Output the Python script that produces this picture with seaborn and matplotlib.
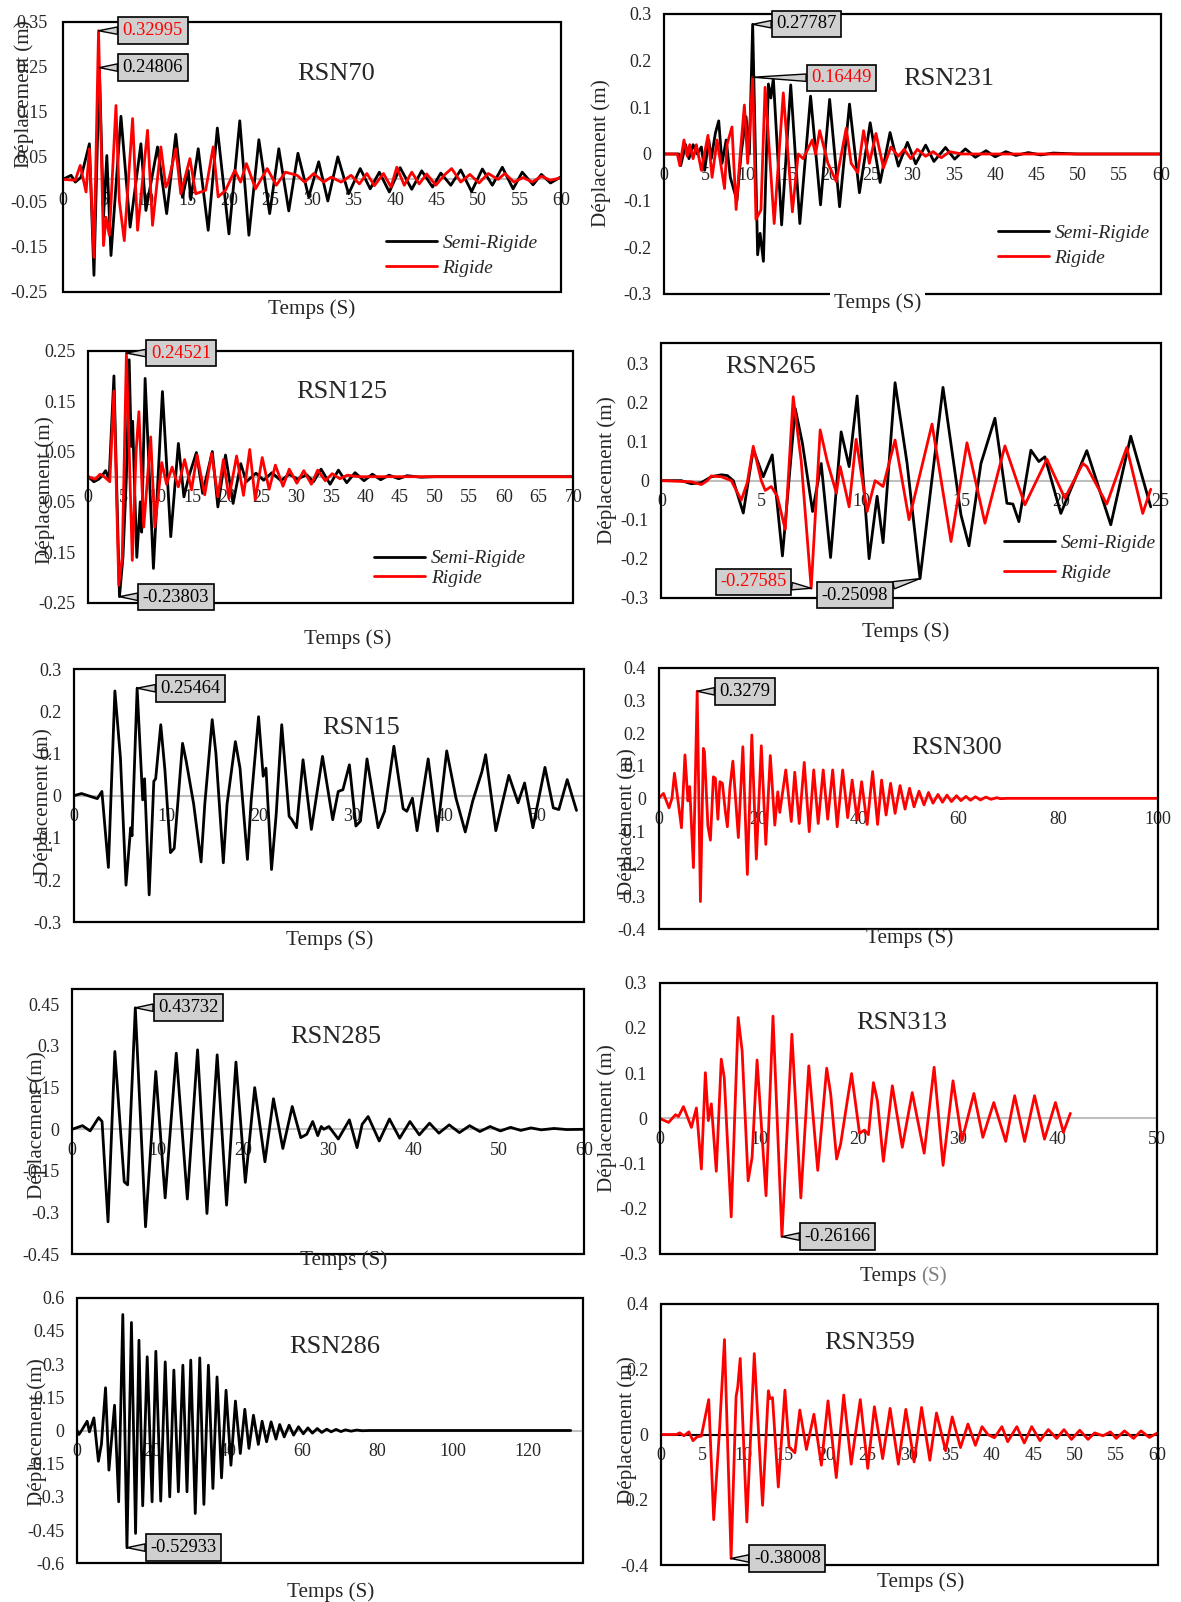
import matplotlib
matplotlib.use("Agg")
import matplotlib.pyplot as plt
import pandas as pd
import seaborn as sns
from matplotlib.lines import Line2D
from matplotlib.patches import Rectangle

sns.set_style("white")
plt.rcParams["font.family"] = ["Liberation Serif", "DejaVu Serif"]

# ---------------- data (time [s], displacement [m]) ----------------
semi70 = [(0,0),(1.0,0.009),(1.5,-0.006),(2.2,0.005),(3.2,0.079),(3.75,-0.213),(4.4,0.24806),(4.9,-0.084),(5.3,0.053),(5.8,-0.169),(7.0,0.14),(8.1,-0.106),(9.4,0.079),(10.0,-0.069),(11.4,0.072),(12.5,-0.076),(13.6,0.10),(14.4,-0.04),(15.1,0.02),(15.4,-0.045),(16.3,0.068),(17.5,-0.113),(18.6,0.114),(20.0,-0.121),(21.3,0.13),(22.4,-0.124),(23.6,0.088),(24.9,-0.076),(26.0,0.068),(27.2,-0.07),(28.3,0.058),(29.6,-0.039),(30.8,0.039),(31.9,-0.048),(33.1,0.05),(34.4,-0.032),(35.8,0.024),(37.0,-0.021),(38.1,0.016),(39.3,-0.028),(40.6,0.026),(42.0,-0.022),(43.2,0.019),(44.5,-0.017),(45.5,0.014),(46.7,-0.013),(47.9,0.021),(49.2,-0.027),(50.5,0.023),(51.7,-0.013),(52.9,0.027),(54.2,-0.021),(55.3,0.016),(56.6,-0.012),(57.6,0.011),(58.7,-0.008),(60,0.006)]
rigide70 = [(0,0),(1.5,-0.002),(2.1,0.031),(2.8,-0.028),(3.2,0.068),(3.75,-0.173),(4.3,0.32995),(4.9,-0.147),(5.2,-0.084),(5.6,-0.124),(6.4,0.164),(6.8,-0.047),(7.4,-0.136),(8.4,0.135),(9.0,-0.113),(10.2,0.109),(10.8,-0.102),(11.8,0.072),(12.4,-0.017),(12.7,-0.006),(13.6,0.068),(14.2,-0.032),(15.3,0.046),(16.0,-0.032),(17.2,-0.024),(18.1,0.072),(18.7,-0.039),(19.6,-0.024),(20.7,0.02),(21.4,-0.006),(22.1,0.035),(23.2,-0.021),(24.6,0.024),(25.7,-0.013),(26.8,0.016),(28.2,0.009),(29.1,-0.006),(30.2,0.013),(31.4,-0.006),(32.3,0.005),(33.5,-0.006),(34.7,0.009),(35.7,-0.01),(36.6,0.013),(37.5,-0.014),(38.6,0.013),(39.5,-0.017),(40.2,0.027),(41.1,-0.013),(42.0,0.016),(42.9,-0.01),(43.8,0.012),(44.9,-0.013),(46.0,0.011),(46.8,0.024),(47.9,-0.006),(49.0,0.011),(50.1,-0.008),(51.2,0.013),(52.4,0.0),(53.2,0.013),(54.3,-0.006),(55.4,0.004),(56.5,-0.006),(57.6,0.007),(58.7,-0.002),(60,0.004)]

semi231 = [(0,0),(1.8,0.0),(2.0,-0.025),(2.6,0.02),(3.0,-0.01),(3.5,0.02),(4.0,0.0),(4.5,0.015),(4.9,-0.035),(5.4,0.03),(5.7,-0.01),(6.2,0.045),(6.6,0.071),(7.0,-0.02),(7.5,0.03),(8.0,-0.05),(8.8,-0.1),(9.3,0.0),(9.9,0.08),(10.3,0.0),(10.7,0.27787),(11.3,-0.216),(11.6,-0.17),(12.0,-0.23),(12.6,0.15),(12.9,0.12),(13.2,0.162),(14.2,-0.152),(15.3,0.148),(16.4,-0.149),(17.7,0.124),(18.9,-0.109),(20.0,0.117),(21.2,-0.113),(22.4,0.107),(23.6,-0.083),(24.9,0.067),(26.1,-0.061),(27.3,0.046),(28.3,-0.026),(29.4,0.025),(30.4,-0.021),(31.6,0.019),(32.6,-0.016),(34.0,0.014),(35.1,-0.011),(36.4,0.011),(37.6,-0.007),(38.9,0.007),(40.0,-0.006),(41.3,0.005),(42.5,-0.003),(44,0.003),(45.5,-0.002),(47,0.002),(50,0.0),(60,0.0)]
rigide231 = [(0,0),(1.6,0.0),(1.9,-0.025),(2.4,0.03),(2.8,-0.005),(3.1,0.02),(3.5,-0.01),(3.9,0.02),(4.5,-0.035),(5.3,0.04),(5.8,-0.05),(6.4,0.03),(7.3,-0.074),(7.6,0.02),(8.2,0.058),(8.7,-0.119),(9.2,0.0),(9.7,0.105),(10.1,-0.02),(10.7,0.16449),(11.1,-0.14),(11.7,-0.12),(12.2,0.143),(13.3,-0.149),(14.4,0.131),(15.5,-0.124),(16.2,0.0),(16.8,-0.01),(17.9,0.03),(18.3,0.0),(18.8,0.05),(19.8,-0.02),(20.8,-0.059),(22.0,0.055),(22.6,-0.02),(23.4,-0.04),(24.1,0.05),(24.8,-0.02),(25.6,0.044),(26.5,-0.03),(27.4,0.015),(28.3,-0.005),(29.0,0.01),(29.8,-0.01),(30.6,0.01),(31.6,-0.005),(32.5,0.005),(33.5,-0.008),(34.5,0.005),(36,0.0),(60,0.0)]

semi125 = [(0,0),(0.8,-0.01),(1.5,-0.005),(2.0,0.002),(2.5,0.012),(3.0,-0.005),(3.7,0.2),(4.5,-0.23803),(5.0,-0.16),(5.5,0.0),(5.9,0.232),(6.2,0.06),(6.4,0.11),(6.7,-0.03),(7.0,-0.16),(7.5,-0.05),(7.7,-0.11),(8.2,0.195),(9.4,-0.182),(10.7,0.169),(11.9,-0.119),(13.0,0.066),(13.8,-0.04),(14.5,0.0),(15.6,0.048),(16.5,-0.033),(17.9,0.05),(18.7,-0.06),(19.8,0.043),(20.9,-0.053),(22.0,0.026),(22.8,-0.01),(24.2,0.007),(25.3,-0.007),(26.5,0.008),(27.8,-0.008),(29.0,0.005),(30.2,-0.005),(31.5,0.004),(32.5,-0.01),(33.6,0.015),(34.9,-0.015),(36.1,0.013),(37.3,-0.012),(38.5,0.008),(39.8,-0.008),(41.0,0.005),(42.2,-0.006),(43.4,0.003),(44.8,-0.004),(46,0.002),(48,-0.001),(50,0.0),(70,0.0)]
rigide125 = [(0,0),(1.0,-0.005),(1.7,0.005),(2.3,0.0),(3.1,-0.01),(3.7,0.17),(4.4,-0.215),(4.9,-0.16),(5.5,0.24521),(6.35,-0.166),(6.9,0.05),(7.3,0.129),(8.0,-0.1),(9.0,0.079),(9.6,-0.1),(10.6,0.028),(11.3,-0.015),(12.1,0.019),(13.0,-0.02),(13.9,0.034),(14.9,-0.026),(15.7,0.043),(16.8,-0.036),(17.8,0.046),(18.7,-0.04),(19.5,0.034),(20.3,-0.043),(21.4,0.041),(22.4,-0.037),(23.3,0.054),(24.1,-0.046),(25.1,0.038),(26.1,-0.025),(27.0,0.023),(28.1,-0.019),(29.0,0.015),(30.1,-0.013),(31.1,0.012),(32.2,-0.015),(33.1,0.013),(34.2,-0.008),(35.2,0.006),(36.3,-0.004),(37.4,0.003),(39,0.0),(70,0.0)]

semi265 = [(0,0),(1.0,0.0),(1.5,-0.008),(2.0,-0.005),(2.5,0.01),(3.0,0.015),(3.3,0.013),(3.6,0.0),(4.1,-0.083),(4.6,0.08),(5.1,0.01),(5.55,0.066),(6.06,-0.193),(6.7,0.185),(7.06,0.096),(7.57,-0.079),(8.0,0.044),(8.47,-0.197),(9.0,0.125),(9.4,0.036),(9.8,0.217),(10.4,-0.2),(10.8,-0.04),(11.1,-0.159),(11.7,0.251),(12.3,0.045),(12.95,-0.25098),(14.1,0.239),(15.0,-0.088),(15.4,-0.167),(16.0,0.044),(16.7,0.16),(17.3,-0.058),(17.6,-0.06),(17.9,-0.105),(18.5,0.078),(18.9,0.049),(19.2,0.061),(20.0,-0.084),(21.3,0.077),(22.5,-0.113),(23.5,0.114),(24.5,-0.067)]
rigide265 = [(0,0),(1.5,-0.003),(2.0,-0.01),(2.3,0.0),(2.5,0.012),(3.0,0.01),(3.5,0.0),(4.0,-0.05),(4.3,-0.005),(4.6,0.088),(5.0,0.0),(5.2,-0.025),(5.5,-0.015),(5.8,-0.04),(6.2,-0.125),(6.6,0.215),(7.0,0.05),(7.5,-0.27585),(7.95,0.13),(8.3,0.05),(8.76,-0.032),(8.95,0.036),(9.4,-0.067),(9.75,0.106),(10.3,-0.079),(10.7,0.0),(11.1,-0.015),(11.7,0.104),(12.4,-0.1),(13.55,0.145),(14.5,-0.156),(15.3,0.097),(16.2,-0.109),(17.2,0.089),(18.2,-0.062),(19.3,0.055),(20.2,-0.045),(21.1,0.044),(21.3,0.036),(22.3,-0.06),(23.3,0.085),(24.1,-0.084),(24.5,-0.022)]

semi15 = [(0,0),(0.8,0.005),(1.5,0.0),(2.5,-0.007),(3.0,0.01),(3.7,-0.17),(4.4,0.248),(5.0,0.089),(5.6,-0.212),(6.1,-0.076),(6.25,-0.095),(6.8,0.25464),(7.4,-0.01),(7.6,0.04),(8.1,-0.235),(8.6,0.034),(8.8,0.04),(9.35,0.168),(9.8,0.06),(10.4,-0.135),(10.8,-0.125),(11.7,0.124),(12.1,0.081),(12.9,-0.02),(13.7,-0.157),(14.1,-0.02),(14.9,0.18),(15.3,0.1),(16.1,-0.159),(16.5,-0.02),(17.4,0.128),(17.9,0.065),(18.7,-0.151),(19.1,-0.013),(19.9,0.187),(20.4,0.046),(20.7,0.065),(21.3,-0.175),(21.8,-0.045),(22.4,0.168),(23.2,-0.049),(23.5,-0.057),(24.0,-0.076),(24.7,0.085),(25.6,-0.08),(26.8,0.093),(27.9,-0.057),(28.5,0.01),(29.0,0.014),(29.7,0.073),(30.4,-0.072),(30.9,-0.06),(31.6,0.087),(32.8,-0.076),(33.5,-0.037),(34.5,0.117),(35.5,-0.031),(35.9,-0.037),(36.5,-0.006),(37.0,-0.083),(38.2,0.087),(39.2,-0.084),(40.2,0.106),(41.2,-0.006),(42.2,-0.086),(43.0,-0.013),(44.0,0.057),(44.4,0.097),(45.5,-0.083),(46.9,0.048),(47.9,-0.017),(48.6,0.03),(49.5,-0.076),(50.8,0.067),(51.7,-0.029),(52.3,-0.033),(53.2,0.038),(54.2,-0.035)]

rigide300 = [(0,0),(1.0,0.015),(2.1,-0.029),(2.7,0.0),(3.2,0.077),(4.6,-0.09),(5.3,0.133),(5.9,-0.008),(6.25,0.036),(7.0,-0.212),(7.75,0.3279),(8.4,-0.316),(9.0,0.153),(9.2,0.143),(9.9,-0.085),(10.4,-0.128),(11.0,0.066),(11.4,0.061),(11.9,-0.064),(12.3,0.051),(12.8,0.046),(13.4,-0.041),(13.8,-0.087),(14.3,0.031),(14.9,0.114),(16.0,-0.12),(16.9,0.158),(17.8,-0.233),(18.7,0.194),(19.6,-0.186),(20.6,0.161),(21.5,-0.141),(22.4,0.131),(23.3,-0.082),(23.9,0.02),(24.3,-0.043),(25.5,0.087),(26.6,-0.071),(27.3,0.08),(28.2,-0.077),(29.2,0.11),(30.2,-0.102),(31.1,0.087),(32.0,-0.077),(33.0,0.087),(33.9,-0.064),(34.9,0.087),(35.8,-0.087),(36.9,0.087),(37.9,-0.059),(38.8,0.056),(39.8,-0.066),(40.7,0.051),(41.8,-0.08),(42.9,0.082),(43.9,-0.08),(44.7,0.056),(45.6,-0.051),(46.5,0.046),(47.4,-0.046),(48.4,0.039),(49.4,-0.033),(50.3,0.031),(51.2,-0.026),(52.2,0.022),(53.2,-0.02),(54.1,0.018),(55.0,-0.015),(56.0,0.012),(56.9,-0.012),(57.8,0.01),(58.7,-0.01),(59.7,0.008),(60.6,-0.007),(61.6,0.006),(62.5,-0.006),(63.5,0.005),(64.5,-0.005),(65.6,0.004),(66.6,-0.003),(67.8,0.002),(68.5,-0.001),(70,0.0),(100,0.0)]

semi285 = [(0,0),(1.2,0.013),(2.1,-0.006),(3.1,0.042),(3.5,0.028),(4.2,-0.333),(5.0,0.28),(6.1,-0.189),(6.5,-0.2),(7.4,0.43732),(8.6,-0.351),(9.8,0.208),(10.9,-0.247),(12.2,0.274),(13.5,-0.251),(14.7,0.286),(15.8,-0.303),(17.0,0.268),(18.1,-0.273),(19.2,0.242),(20.3,-0.191),(21.4,0.15),(22.6,-0.117),(23.6,0.11),(24.7,-0.069),(25.8,0.082),(26.8,-0.03),(27.5,-0.018),(28.2,0.028),(28.8,-0.023),(29.2,0.01),(29.5,0.0),(30.1,0.01),(31.2,-0.035),(32.5,0.034),(33.4,-0.066),(34.0,0.018),(34.7,0.046),(36.0,-0.042),(37.2,0.037),(38.4,-0.032),(39.6,0.028),(40.7,-0.02),(41.9,0.022),(43.0,-0.014),(44.2,0.016),(45.4,-0.012),(46.6,0.013),(47.8,-0.008),(49.0,0.01),(50.2,-0.006),(51.4,0.007),(52.6,-0.004),(53.8,0.005),(55.0,-0.002),(56.5,0.003),(58,-0.001),(60,0.0)]

rigide313 = [(0,0),(0.9,-0.009),(1.6,0.008),(1.9,0.004),(2.4,0.026),(3.2,-0.02),(3.7,0.023),(4.2,-0.112),(4.6,0.101),(4.9,-0.005),(5.2,0.032),(5.7,-0.117),(6.2,0.131),(6.5,0.09),(7.2,-0.218),(7.9,0.223),(8.3,0.149),(8.9,-0.138),(9.3,-0.086),(9.8,0.129),(10.7,-0.171),(11.4,0.226),(12.3,-0.26166),(13.3,0.186),(14.2,-0.176),(15.0,0.116),(15.9,-0.115),(16.8,0.111),(17.2,0.054),(17.8,-0.09),(18.2,-0.057),(18.9,0.043),(19.3,0.099),(20.1,-0.033),(20.6,-0.026),(21.0,-0.036),(21.5,0.079),(21.9,0.039),(22.5,-0.095),(23.4,0.072),(24.4,-0.064),(25.4,0.057),(26.6,-0.077),(27.6,0.113),(28.5,-0.104),(29.5,0.083),(30.4,-0.049),(31.6,0.055),(32.5,-0.042),(33.6,0.035),(34.8,-0.051),(35.7,0.05),(36.7,-0.051),(37.7,0.05),(38.7,-0.046),(39.8,0.035),(40.6,-0.031),(41.3,0.011)]

semi286 = [(0,0),(0.5,-0.018),(1.3,0.002),(2.7,0.042),(3.3,-0.006),(4.5,0.057),(5.7,-0.139),(6.5,-0.063),(7.6,0.193),(8.5,-0.179),(10.0,0.114),(11.1,-0.322),(12.2,0.524),(13.3,-0.52933),(14.5,0.488),(15.6,-0.465),(16.5,0.408),(17.5,-0.34),(18.7,0.333),(20.0,-0.322),(21.0,0.358),(22.3,-0.319),(23.5,0.31),(24.7,-0.3),(25.8,0.273),(27.0,-0.277),(28.2,0.295),(29.3,-0.277),(30.3,0.318),(31.5,-0.375),(32.7,0.328),(33.8,-0.334),(35.0,0.295),(36.2,-0.262),(37.3,0.242),(38.5,-0.214),(39.7,0.182),(41.0,-0.157),(42.2,0.133),(43.5,-0.104),(44.7,0.096),(45.8,-0.081),(47.0,0.069),(48.3,-0.063),(49.3,0.042),(50.5,-0.051),(51.7,0.039),(53.0,-0.039),(54.0,0.027),(55.2,-0.029),(56.5,0.024),(57.7,-0.021),(59.0,0.017),(60.3,-0.015),(61.5,0.012),(62.7,-0.012),(64.0,0.009),(65.2,-0.009),(66.5,0.006),(67.7,-0.006),(69.0,0.005),(70.3,-0.005),(71.5,0.003),(73.0,-0.003),(74.5,0.002),(76.0,-0.001),(78,0.0),(131.5,0.0)]

rigide359 = [(0,0),(1.9,0.0),(2.3,0.005),(2.8,-0.004),(3.4,0.008),(3.9,-0.019),(4.4,-0.007),(4.9,-0.005),(5.8,0.107),(6.4,-0.261),(7.1,0.013),(7.7,0.291),(8.5,-0.38008),(9.1,0.116),(9.3,0.145),(9.6,0.233),(10.4,-0.268),(11.3,0.248),(12.3,-0.217),(13.0,0.134),(13.2,0.11),(13.5,0.113),(14.2,-0.161),(15.0,0.136),(15.5,-0.038),(16.2,-0.056),(16.8,0.075),(17.6,-0.046),(18.5,0.062),(19.4,-0.094),(20.2,0.103),(21.2,-0.132),(22.1,0.121),(23.0,-0.091),(24.1,0.107),(25.0,-0.104),(25.8,0.085),(26.8,-0.074),(27.7,0.08),(28.7,-0.091),(29.6,0.077),(30.6,-0.084),(31.5,0.083),(32.5,-0.079),(33.3,0.066),(34.4,-0.05),(35.2,0.054),(36.2,-0.04),(37.1,0.032),(38.0,-0.033),(38.8,0.024),(39.5,0.0),(40.3,-0.01),(41.2,0.024),(41.9,-0.022),(43.0,0.024),(43.9,-0.026),(44.8,0.024),(45.8,-0.019),(46.8,0.015),(47.8,-0.012),(48.7,0.015),(49.6,-0.015),(50.6,0.013),(51.6,-0.015),(52.4,0.005),(53.4,-0.004),(54.3,0.008),(55.0,-0.012),(56.0,0.011),(57.1,-0.012),(58.0,0.011),(59.0,-0.009),(60,0.005)]

series_names = ["Semi-Rigide", "Rigide"]
titles = ["RSN70", "RSN231", "RSN125", "RSN265", "RSN15", "RSN300", "RSN285", "RSN313", "RSN286", "RSN359"]
xlabel_text = "Temps (S)"
ylabel_text = "Déplacement (m)"

# ---------------- layout ----------------
W, H = 1181, 1602
fig = plt.figure(figsize=(W / 100, H / 100), dpi=100)
RED = "#ff0000"
FS_TICK, FS_TITLE, FS_LAB, FS_LEG, FS_ANN = 13, 19, 15.2, 14, 13.3


def fx(x):
    return x / W


def fy(y):
    return 1 - y / H


def fmt(v):
    s = f"{v:.2f}".rstrip("0").rstrip(".")
    return "0" if s in ("-0", "") else s


def panel(title, box, xlim, xticks, ylim, yticks, series, title_xy, xl_xy, yl_xy,
          legend=None, ann=(), ypad=9, zero_color="#bfbfbf", xl_white=False, xl_split=False):
    l, t, r, b = box
    ax = fig.add_axes([fx(l), fy(b), (r - l) / W, (b - t) / H])
    for name, pts, color in series:
        df = pd.DataFrame(pts, columns=["Temps", "Deplacement"])
        sns.lineplot(data=df, x="Temps", y="Deplacement", ax=ax, color=color,
                     linewidth=2.0, sort=False, estimator=None, zorder=3,
                     solid_joinstyle="round")
    ax.set_xlim(*xlim)
    ax.set_ylim(*ylim)
    ax.set_xticks(list(xticks))
    ax.set_xticklabels([fmt(v) for v in xticks])
    ax.set_yticks(list(yticks))
    ax.set_yticklabels([fmt(v) for v in yticks])
    ax.set_xlabel("")
    ax.set_ylabel("")
    for s in ("top", "right", "left"):
        ax.spines[s].set_visible(False)
    ax.spines["bottom"].set_position(("data", 0))
    ax.spines["bottom"].set_color(zero_color)
    ax.spines["bottom"].set_linewidth(1.5)
    ax.spines["bottom"].set_zorder(2)
    ax.add_patch(Rectangle((0, 0), 1, 1, transform=ax.transAxes, fill=False,
                           ec="black", lw=1.6, clip_on=False, zorder=5))
    ax.tick_params(axis="x", length=0, labelsize=FS_TICK, pad=9)
    ax.tick_params(axis="y", length=0, labelsize=FS_TICK, pad=ypad)
    ax.grid(False)

    fig.text(fx(title_xy[0]), fy(title_xy[1]), title, ha="center", va="center", fontsize=FS_TITLE)
    if xl_split:
        fig.text(fx(xl_xy[0]), fy(xl_xy[1]), "Temps ", ha="right", va="center", fontsize=FS_LAB)
        fig.text(fx(xl_xy[0]), fy(xl_xy[1]), "(S)", ha="left", va="center", fontsize=FS_LAB, color="#808080")
    else:
        kw = {}
        if xl_white:
            kw["bbox"] = dict(fc="white", ec="none", pad=3)
        fig.text(fx(xl_xy[0]), fy(xl_xy[1]), xlabel_text, ha="center", va="center",
                 fontsize=FS_LAB, zorder=10, **kw)
    fig.text(fx(yl_xy[0]), fy(yl_xy[1]), ylabel_text, ha="center", va="center",
             rotation=90, fontsize=FS_LAB)

    if legend is not None:
        lx, ly, lsp = legend
        handles = [Line2D([], [], color=c, lw=2.0) for _, _, c in series]
        ax.legend(handles, [n for n, _, _ in series], loc="center left",
                  bbox_to_anchor=(fx(lx), fy(ly)), bbox_transform=fig.transFigure,
                  frameon=False, borderpad=0, borderaxespad=0, handlelength=2.6,
                  handletextpad=0.3, labelspacing=lsp,
                  prop=dict(family="Liberation Serif", style="italic", size=FS_LEG))

    for text, tx, ty, cx, cy, col in ann:
        ax.annotate(text, xy=(tx, ty), xycoords="data", xytext=(cx, H - cy),
                    textcoords="figure pixels", ha="center", va="center", fontsize=FS_ANN,
                    color=col, zorder=8, annotation_clip=False,
                    bbox=dict(boxstyle="square,pad=0.25", fc="#d0d0d0", ec="black", lw=1.2),
                    arrowprops=dict(arrowstyle="wedge,tail_width=0.4,shrink_factor=0.5",
                                    fc="#d0d0d0", ec="black", lw=1.0, shrinkA=0, shrinkB=0))
    return ax


def two(s, r):
    return [(series_names[0], s, "black"), (series_names[1], r, RED)]


panel(titles[0], (62.8, 21.7, 561.3, 292), (0, 60), range(0, 61, 5), (-0.25, 0.35),
      [-0.25, -0.15, -0.05, 0.05, 0.15, 0.25, 0.35], two(semi70, rigide70),
      (336, 74), (312, 309), (24, 94), legend=(386, 255.5, 0.4),
      ann=[("0.32995", 4.3, 0.32995, 152.8, 30.5, RED), ("0.24806", 4.4, 0.24806, 152.8, 67.5, "black")],
      ypad=11)

panel(titles[1], (664.1, 14, 1160.7, 294), (0, 60), range(0, 61, 5), (-0.3, 0.3),
      [-0.3, -0.2, -0.1, 0, 0.1, 0.2, 0.3], two(semi231, rigide231),
      (948.6, 79), (877.6, 303), (601, 153), legend=(998, 245.5, 0.4),
      ann=[("0.27787", 10.7, 0.27787, 806.5, 24, "black"), ("0.16449", 10.7, 0.16449, 841.5, 78, RED)],
      xl_white=True)

panel(titles[2], (88.3, 350.7, 573.3, 602.7), (0, 70), range(0, 71, 5), (-0.25, 0.25),
      [-0.25, -0.15, -0.05, 0.05, 0.15, 0.25], two(semi125, rigide125),
      (341.7, 392), (347.4, 639), (45, 490), legend=(374.4, 568.5, 0.12),
      ann=[("0.24521", 5.5, 0.24521, 181, 353, RED), ("-0.23803", 4.5, -0.23803, 176, 597, "black")])

panel(titles[3], (661.4, 343.3, 1160.7, 597.7), (0, 25), range(0, 26, 5), (-0.3, 0.352),
      [-0.3, -0.2, -0.1, 0, 0.1, 0.2, 0.3], two(semi265, rigide265),
      (770.4, 367), (905.8, 632), (607, 470), legend=(1004, 558, 0.62),
      ann=[("-0.27585", 7.5, -0.27585, 753.5, 582, RED), ("-0.25098", 12.95, -0.25098, 855, 595, "black")])

panel(titles[4], (74.1, 669, 583.9, 922.3), (0, 55), range(0, 51, 10), (-0.3, 0.3),
      [-0.3, -0.2, -0.1, 0, 0.1, 0.2, 0.3], [(series_names[0], semi15, "black")],
      (361, 728), (329.3, 940), (43, 802),
      ann=[("0.25464", 6.8, 0.25464, 190.6, 688.5, "black")])

panel(titles[5], (658.5, 667.7, 1157.6, 929), (0, 100), range(0, 101, 20), (-0.4, 0.4),
      [-0.4, -0.3, -0.2, -0.1, 0, 0.1, 0.2, 0.3, 0.4], [(series_names[1], rigide300, RED)],
      (956.5, 748), (909.2, 938), (627, 822),
      ann=[("0.3279", 7.75, 0.3279, 745.1, 691.5, "black")])

panel(titles[6], (72.2, 989, 583.9, 1254.3), (0, 60), range(0, 61, 10), (-0.45, 0.505),
      [-0.45, -0.3, -0.15, 0, 0.15, 0.3, 0.45], [(series_names[0], semi285, "black")],
      (336, 1037), (344, 1260), (37, 1125),
      ann=[("0.43732", 7.4, 0.43732, 188.3, 1007.5, "black")])

panel(titles[7], (659.6, 982.7, 1156.9, 1254), (0, 50), range(0, 51, 10), (-0.3, 0.3),
      [-0.3, -0.2, -0.1, 0, 0.1, 0.2, 0.3], [(series_names[1], rigide313, RED)],
      (901.3, 1023), (921.6, 1277), (607, 1118), xl_split=True,
      ann=[("-0.26166", 12.3, -0.26166, 837.5, 1236.5, "black")])

panel(titles[8], (77, 1297.7, 582.7, 1563.3), (0, 134.7), range(0, 121, 20), (-0.6, 0.6),
      [-0.6, -0.45, -0.3, -0.15, 0, 0.15, 0.3, 0.45, 0.6], [(series_names[0], semi286, "black")],
      (335, 1347), (330.4, 1592), (37, 1432),
      ann=[("-0.52933", 13.3, -0.52933, 183.3, 1547.5, "black")])

panel(titles[9], (660.7, 1304, 1157.6, 1565), (0, 60), range(0, 61, 5), (-0.4, 0.4),
      [-0.4, -0.2, 0, 0.2, 0.4], [(series_names[1], rigide359, RED)],
      (869.7, 1343), (920.4, 1582), (627, 1430), zero_color="#000000",
      ann=[("-0.38008", 8.5, -0.38008, 787.4, 1558.5, "black")])

fig.savefig("out.png", dpi=100, facecolor="white")
